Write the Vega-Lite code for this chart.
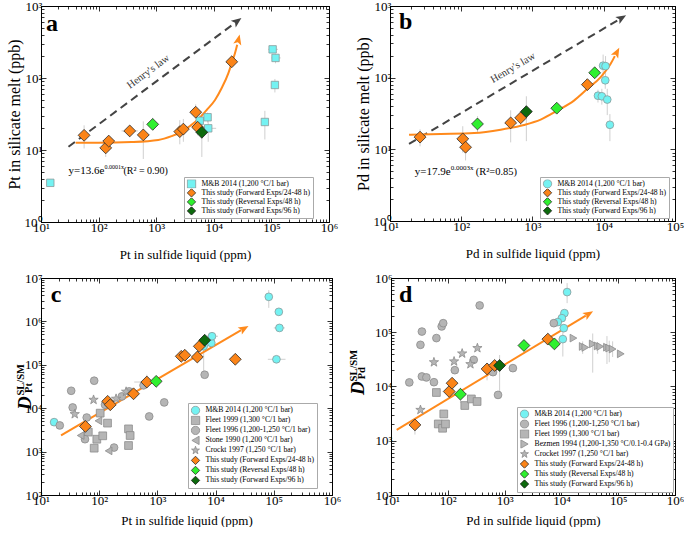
{
"$schema": "https://vega.github.io/schema/vega-lite/v6.json",
"background": "white",
"padding": {"left": 6, "top": 0, "right": 0, "bottom": 0},
"config": {
  "view": {"stroke": null},
  "font": "Liberation Serif",
  "axis": {"grid": false, "domainColor": "#000", "tickColor": "#000", "labelColor": "#000", "titleColor": "#000", "labelFont": "Liberation Serif", "titleFont": "Liberation Serif", "labelFontSize": 13, "titleFontSize": 13, "titleFontWeight": "normal", "labelFlush": false, "labelOverlap": false, "domainWidth": 1, "tickWidth": 0.8},
  "legend": {"labelFont": "Liberation Serif"},
  "text": {"font": "Liberation Serif", "color": "#000"}
},
"datasets": {
  "a_pts": [
    {"x":14.5,"y":3.5,"s":"M&B 2014 (1,200 °C/1 bar)"},
    {"x":5700,"y":25.5,"s":"M&B 2014 (1,200 °C/1 bar)"},
    {"x":7800,"y":28.5,"s":"M&B 2014 (1,200 °C/1 bar)"},
    {"x":8000,"y":20,"s":"M&B 2014 (1,200 °C/1 bar)"},
    {"x":77000,"y":24.5,"s":"M&B 2014 (1,200 °C/1 bar)"},
    {"x":105000,"y":250,"s":"M&B 2014 (1,200 °C/1 bar)"},
    {"x":118000,"y":190,"s":"M&B 2014 (1,200 °C/1 bar)"},
    {"x":115000,"y":80,"s":"M&B 2014 (1,200 °C/1 bar)"},
    {"x":56,"y":16,"s":"This study (Forward Exps/24-48 h)"},
    {"x":133,"y":10.7,"s":"This study (Forward Exps/24-48 h)"},
    {"x":150,"y":13.3,"s":"This study (Forward Exps/24-48 h)"},
    {"x":347,"y":18.4,"s":"This study (Forward Exps/24-48 h)"},
    {"x":597,"y":16.2,"s":"This study (Forward Exps/24-48 h)"},
    {"x":2570,"y":18,"s":"This study (Forward Exps/24-48 h)"},
    {"x":2960,"y":19.5,"s":"This study (Forward Exps/24-48 h)"},
    {"x":4850,"y":33.5,"s":"This study (Forward Exps/24-48 h)"},
    {"x":5250,"y":20.7,"s":"This study (Forward Exps/24-48 h)"},
    {"x":20500,"y":168,"s":"This study (Forward Exps/24-48 h)"},
    {"x":870,"y":22.7,"s":"This study (Reversal Exps/48 h)"},
    {"x":6200,"y":17.6,"s":"This study (Forward Exps/96 h)"}
  ],
  "a_ev": [
    {"x":56,"lo":10.5,"hi":22},{"x":133,"lo":8,"hi":14},{"x":150,"lo":11,"hi":16},{"x":347,"lo":15,"hi":22},
    {"x":597,"lo":7.5,"hi":25},{"x":870,"lo":19,"hi":28},{"x":2570,"lo":12,"hi":26},{"x":2960,"lo":13,"hi":27},
    {"x":4850,"lo":27,"hi":43},{"x":5250,"lo":16,"hi":27},{"x":6200,"lo":8,"hi":32},{"x":5700,"lo":21,"hi":31},
    {"x":7800,"lo":24,"hi":33},{"x":8000,"lo":13,"hi":28},{"x":77000,"lo":14,"hi":35},{"x":118000,"lo":160,"hi":215},
    {"x":115000,"lo":63,"hi":97},{"x":105000,"lo":230,"hi":270},{"x":20500,"lo":150,"hi":190}
  ],
  "a_eh": [
    {"y":18.4,"lo":250,"hi":480},{"y":16.2,"lo":480,"hi":760},{"y":250,"lo":88000,"hi":130000},
    {"y":190,"lo":100000,"hi":145000},{"y":20,"lo":6500,"hi":11000},{"y":28.5,"lo":7000,"hi":9000},{"y":33.5,"lo":4300,"hi":5400}
  ],
  "a_fit": [
    {"x":40,"y":12.6},{"x":99,"y":12.6},{"x":374,"y":12.9},{"x":1087,"y":13.8},{"x":1850,"y":15.6},{"x":2760,"y":17.9},
    {"x":3860,"y":21.5},{"x":5380,"y":26.7},{"x":7500,"y":35.9},{"x":10500,"y":49.5},{"x":13650,"y":72},{"x":17850,"y":116},
    {"x":20400,"y":160},{"x":23300,"y":220},{"x":25500,"y":290}
  ],
  "b_pts": [
    {"x":8300,"y":56,"s":"M&B 2014 (1,200 °C/1 bar)"},
    {"x":9800,"y":147,"s":"M&B 2014 (1,200 °C/1 bar)"},
    {"x":10600,"y":145,"s":"M&B 2014 (1,200 °C/1 bar)"},
    {"x":10500,"y":92,"s":"M&B 2014 (1,200 °C/1 bar)"},
    {"x":9400,"y":55,"s":"M&B 2014 (1,200 °C/1 bar)"},
    {"x":11200,"y":49.5,"s":"M&B 2014 (1,200 °C/1 bar)"},
    {"x":12200,"y":22,"s":"M&B 2014 (1,200 °C/1 bar)"},
    {"x":26.4,"y":14.8,"s":"This study (Forward Exps/24-48 h)"},
    {"x":105,"y":14,"s":"This study (Forward Exps/24-48 h)"},
    {"x":115,"y":10.7,"s":"This study (Forward Exps/24-48 h)"},
    {"x":494,"y":23.4,"s":"This study (Forward Exps/24-48 h)"},
    {"x":682,"y":27.5,"s":"This study (Forward Exps/24-48 h)"},
    {"x":5890,"y":80,"s":"This study (Forward Exps/24-48 h)"},
    {"x":169,"y":22.6,"s":"This study (Reversal Exps/48 h)"},
    {"x":2190,"y":37.5,"s":"This study (Reversal Exps/48 h)"},
    {"x":7460,"y":117,"s":"This study (Reversal Exps/48 h)"},
    {"x":820,"y":33.6,"s":"This study (Forward Exps/96 h)"}
  ],
  "b_ev": [
    {"x":26.4,"lo":11,"hi":19},{"x":105,"lo":9,"hi":21},{"x":115,"lo":7,"hi":13.5},{"x":494,"lo":12.5,"hi":35},
    {"x":682,"lo":21,"hi":33},{"x":820,"lo":13,"hi":55},{"x":169,"lo":17,"hi":29},{"x":2190,"lo":33,"hi":42},
    {"x":9800,"lo":100,"hi":210},{"x":10600,"lo":95,"hi":200},{"x":10500,"lo":70,"hi":105},{"x":11200,"lo":30,"hi":70},
    {"x":12200,"lo":13,"hi":31},{"x":8300,"lo":45,"hi":68},{"x":9400,"lo":42,"hi":70},{"x":5890,"lo":70,"hi":92}
  ],
  "b_eh": [
    {"y":56,"lo":7500,"hi":9300},{"y":145,"lo":9000,"hi":11500}
  ],
  "b_fit": [
    {"x":18.5,"y":16},{"x":51.5,"y":16.4},{"x":151,"y":16.9},{"x":358,"y":18.8},{"x":760,"y":21.9},{"x":1300,"y":26},
    {"x":2230,"y":34.7},{"x":3820,"y":47.9},{"x":5900,"y":69.8},{"x":9060,"y":102},{"x":12500,"y":156},{"x":14300,"y":200}
  ],
  "c_pts": [
    {"x":16.8,"y":4770,"s":"M&B 2014 (1,200 °C/1 bar)"},
    {"x":6240,"y":267000,"s":"M&B 2014 (1,200 °C/1 bar)"},
    {"x":8440,"y":319000,"s":"M&B 2014 (1,200 °C/1 bar)"},
    {"x":8670,"y":455000,"s":"M&B 2014 (1,200 °C/1 bar)"},
    {"x":82000,"y":3680000,"s":"M&B 2014 (1,200 °C/1 bar)"},
    {"x":111000,"y":134000,"s":"M&B 2014 (1,200 °C/1 bar)"},
    {"x":122000,"y":1660000,"s":"M&B 2014 (1,200 °C/1 bar)"},
    {"x":125000,"y":708000,"s":"M&B 2014 (1,200 °C/1 bar)"},
    {"x":65,"y":2810,"s":"Fleet 1999 (1,300 °C/1 bar)"},
    {"x":82,"y":1200,"s":"Fleet 1999 (1,300 °C/1 bar)"},
    {"x":91,"y":1930,"s":"Fleet 1999 (1,300 °C/1 bar)"},
    {"x":104,"y":7700,"s":"Fleet 1999 (1,300 °C/1 bar)"},
    {"x":115,"y":2310,"s":"Fleet 1999 (1,300 °C/1 bar)"},
    {"x":139,"y":4530,"s":"Fleet 1999 (1,300 °C/1 bar)"},
    {"x":319,"y":3340,"s":"Fleet 1999 (1,300 °C/1 bar)"},
    {"x":340,"y":2350,"s":"Fleet 1999 (1,300 °C/1 bar)"},
    {"x":319,"y":1380,"s":"Fleet 1999 (1,300 °C/1 bar)"},
    {"x":21,"y":4010,"s":"Fleet 1996 (1,200-1,250 °C/1 bar)"},
    {"x":33,"y":25200,"s":"Fleet 1996 (1,200-1,250 °C/1 bar)"},
    {"x":35,"y":10400,"s":"Fleet 1996 (1,200-1,250 °C/1 bar)"},
    {"x":61,"y":6100,"s":"Fleet 1996 (1,200-1,250 °C/1 bar)"},
    {"x":57,"y":1930,"s":"Fleet 1996 (1,200-1,250 °C/1 bar)"},
    {"x":82,"y":43000,"s":"Fleet 1996 (1,200-1,250 °C/1 bar)"},
    {"x":126,"y":12000,"s":"Fleet 1996 (1,200-1,250 °C/1 bar)"},
    {"x":180,"y":1240,"s":"Fleet 1996 (1,200-1,250 °C/1 bar)"},
    {"x":245,"y":18700,"s":"Fleet 1996 (1,200-1,250 °C/1 bar)"},
    {"x":327,"y":24400,"s":"Fleet 1996 (1,200-1,250 °C/1 bar)"},
    {"x":578,"y":33600,"s":"Fleet 1996 (1,200-1,250 °C/1 bar)"},
    {"x":723,"y":6460,"s":"Fleet 1996 (1,200-1,250 °C/1 bar)"},
    {"x":1310,"y":13600,"s":"Fleet 1996 (1,200-1,250 °C/1 bar)"},
    {"x":6490,"y":59000,"s":"Fleet 1996 (1,200-1,250 °C/1 bar)"},
    {"x":48,"y":2350,"s":"Stone 1990 (1,200 °C/1 bar)"},
    {"x":97,"y":5120,"s":"Stone 1990 (1,200 °C/1 bar)"},
    {"x":145,"y":1040,"s":"Stone 1990 (1,200 °C/1 bar)"},
    {"x":38,"y":7300,"s":"Crockt 1997 (1,250 °C/1 bar)"},
    {"x":80,"y":15600,"s":"Crockt 1997 (1,250 °C/1 bar)"},
    {"x":195,"y":16500,"s":"Crockt 1997 (1,250 °C/1 bar)"},
    {"x":290,"y":24000,"s":"Crockt 1997 (1,250 °C/1 bar)"},
    {"x":58,"y":3800,"s":"This study (Forward Exps/24-48 h)"},
    {"x":140,"y":14400,"s":"This study (Forward Exps/24-48 h)"},
    {"x":155,"y":12000,"s":"This study (Forward Exps/24-48 h)"},
    {"x":389,"y":21500,"s":"This study (Forward Exps/24-48 h)"},
    {"x":659,"y":40100,"s":"This study (Forward Exps/24-48 h)"},
    {"x":2570,"y":157000,"s":"This study (Forward Exps/24-48 h)"},
    {"x":2960,"y":166000,"s":"This study (Forward Exps/24-48 h)"},
    {"x":4850,"y":151000,"s":"This study (Forward Exps/24-48 h)"},
    {"x":5250,"y":267000,"s":"This study (Forward Exps/24-48 h)"},
    {"x":21800,"y":134000,"s":"This study (Forward Exps/24-48 h)"},
    {"x":953,"y":41600,"s":"This study (Reversal Exps/48 h)"},
    {"x":6490,"y":368000,"s":"This study (Forward Exps/96 h)"}
  ],
  "c_ev": [
    {"x":82000,"lo":2050000,"hi":5250000},{"x":6240,"lo":60000,"hi":320000},{"x":659,"lo":30000,"hi":59000},
    {"x":8670,"lo":350000,"hi":560000},{"x":122000,"lo":1400000,"hi":1950000},{"x":125000,"lo":600000,"hi":850000},
    {"x":111000,"lo":110000,"hi":160000},{"x":16.8,"lo":4000,"hi":5500},{"x":8440,"lo":250000,"hi":380000}
  ],
  "c_eh": [
    {"y":134000,"lo":79000,"hi":159000},{"y":708000,"lo":100000,"hi":155000},{"y":455000,"lo":7000,"hi":11000},
    {"y":40100,"lo":400,"hi":700},{"y":319000,"lo":7000,"hi":9800}
  ],
  "d_pts": [
    {"x":12600,"y":550000,"s":"M&B 2014 (1,200 °C/1 bar)"},
    {"x":11300,"y":225000,"s":"M&B 2014 (1,200 °C/1 bar)"},
    {"x":10200,"y":182000,"s":"M&B 2014 (1,200 °C/1 bar)"},
    {"x":8650,"y":154000,"s":"M&B 2014 (1,200 °C/1 bar)"},
    {"x":11000,"y":119000,"s":"M&B 2014 (1,200 °C/1 bar)"},
    {"x":10600,"y":74700,"s":"M&B 2014 (1,200 °C/1 bar)"},
    {"x":21,"y":11900,"s":"Fleet 1996 (1,200-1,250 °C/1 bar)"},
    {"x":33,"y":58600,"s":"Fleet 1996 (1,200-1,250 °C/1 bar)"},
    {"x":35,"y":103000,"s":"Fleet 1996 (1,200-1,250 °C/1 bar)"},
    {"x":35,"y":15300,"s":"Fleet 1996 (1,200-1,250 °C/1 bar)"},
    {"x":42,"y":14700,"s":"Fleet 1996 (1,200-1,250 °C/1 bar)"},
    {"x":57,"y":12000,"s":"Fleet 1996 (1,200-1,250 °C/1 bar)"},
    {"x":63,"y":78000,"s":"Fleet 1996 (1,200-1,250 °C/1 bar)"},
    {"x":78,"y":128000,"s":"Fleet 1996 (1,200-1,250 °C/1 bar)"},
    {"x":83,"y":147000,"s":"Fleet 1996 (1,200-1,250 °C/1 bar)"},
    {"x":133,"y":20000,"s":"Fleet 1996 (1,200-1,250 °C/1 bar)"},
    {"x":286,"y":31000,"s":"Fleet 1996 (1,200-1,250 °C/1 bar)"},
    {"x":364,"y":312000,"s":"Fleet 1996 (1,200-1,250 °C/1 bar)"},
    {"x":625,"y":18400,"s":"Fleet 1996 (1,200-1,250 °C/1 bar)"},
    {"x":766,"y":7000,"s":"Fleet 1996 (1,200-1,250 °C/1 bar)"},
    {"x":1400,"y":21800,"s":"Fleet 1996 (1,200-1,250 °C/1 bar)"},
    {"x":7350,"y":147000,"s":"Fleet 1996 (1,200-1,250 °C/1 bar)"},
    {"x":63,"y":7750,"s":"Fleet 1999 (1,300 °C/1 bar)"},
    {"x":68,"y":2040,"s":"Fleet 1999 (1,300 °C/1 bar)"},
    {"x":81,"y":1700,"s":"Fleet 1999 (1,300 °C/1 bar)"},
    {"x":85,"y":3120,"s":"Fleet 1999 (1,300 °C/1 bar)"},
    {"x":91,"y":2040,"s":"Fleet 1999 (1,300 °C/1 bar)"},
    {"x":199,"y":4460,"s":"Fleet 1999 (1,300 °C/1 bar)"},
    {"x":260,"y":5900,"s":"Fleet 1999 (1,300 °C/1 bar)"},
    {"x":328,"y":5290,"s":"Fleet 1999 (1,300 °C/1 bar)"},
    {"x":16300,"y":78000,"s":"Bezmen 1994 (1,200-1,350 °C/0.1-0.4 GPa)"},
    {"x":23700,"y":54700,"s":"Bezmen 1994 (1,200-1,350 °C/0.1-0.4 GPa)"},
    {"x":26400,"y":52500,"s":"Bezmen 1994 (1,200-1,350 °C/0.1-0.4 GPa)"},
    {"x":35600,"y":61000,"s":"Bezmen 1994 (1,200-1,350 °C/0.1-0.4 GPa)"},
    {"x":43500,"y":56000,"s":"Bezmen 1994 (1,200-1,350 °C/0.1-0.4 GPa)"},
    {"x":48300,"y":54700,"s":"Bezmen 1994 (1,200-1,350 °C/0.1-0.4 GPa)"},
    {"x":63400,"y":53000,"s":"Bezmen 1994 (1,200-1,350 °C/0.1-0.4 GPa)"},
    {"x":69500,"y":51000,"s":"Bezmen 1994 (1,200-1,350 °C/0.1-0.4 GPa)"},
    {"x":79800,"y":49000,"s":"Bezmen 1994 (1,200-1,350 °C/0.1-0.4 GPa)"},
    {"x":111000,"y":40000,"s":"Bezmen 1994 (1,200-1,350 °C/0.1-0.4 GPa)"},
    {"x":33,"y":3700,"s":"Crocket 1997 (1,250 °C/1 bar)"},
    {"x":57,"y":28000,"s":"Crocket 1997 (1,250 °C/1 bar)"},
    {"x":129,"y":29000,"s":"Crocket 1997 (1,250 °C/1 bar)"},
    {"x":179,"y":40600,"s":"Crocket 1997 (1,250 °C/1 bar)"},
    {"x":250,"y":25800,"s":"Crocket 1997 (1,250 °C/1 bar)"},
    {"x":332,"y":51000,"s":"Crocket 1997 (1,250 °C/1 bar)"},
    {"x":26.4,"y":1960,"s":"This study (Forward Exps/24-48 h)"},
    {"x":106,"y":8090,"s":"This study (Forward Exps/24-48 h)"},
    {"x":119,"y":11500,"s":"This study (Forward Exps/24-48 h)"},
    {"x":491,"y":21100,"s":"This study (Forward Exps/24-48 h)"},
    {"x":668,"y":24400,"s":"This study (Forward Exps/24-48 h)"},
    {"x":5770,"y":74700,"s":"This study (Forward Exps/24-48 h)"},
    {"x":167,"y":7210,"s":"This study (Reversal Exps/48 h)"},
    {"x":2190,"y":57000,"s":"This study (Reversal Exps/48 h)"},
    {"x":7530,"y":61000,"s":"This study (Reversal Exps/48 h)"},
    {"x":817,"y":24400,"s":"This study (Forward Exps/96 h)"}
  ],
  "d_ev": [
    {"x":26.4,"lo":1300,"hi":2400},{"x":167,"lo":5000,"hi":9500},{"x":491,"lo":13000,"hi":27000},{"x":668,"lo":19000,"hi":30000},
    {"x":817,"lo":7000,"hi":38000},{"x":2190,"lo":50000,"hi":62000},{"x":12600,"lo":344000,"hi":805000},{"x":10600,"lo":35700,"hi":119000},
    {"x":23700,"lo":40000,"hi":68000},{"x":35600,"lo":18000,"hi":95000},{"x":43500,"lo":40000,"hi":65000},{"x":63400,"lo":26000,"hi":85000},
    {"x":69500,"lo":28000,"hi":70000},{"x":79800,"lo":35000,"hi":68000},{"x":11000,"lo":100000,"hi":140000}
  ],
  "d_eh": [
    {"y":550000,"lo":11500,"hi":14000},{"y":74700,"lo":9000,"hi":12000}
  ]
},
"spacing": 11,
"resolve": {"scale": {"x": "independent", "y": "independent", "shape": "independent", "fill": "independent", "stroke": "independent"}, "legend": {"shape": "independent", "fill": "independent", "stroke": "independent"}},
"vconcat": [
 {"spacing": 17,
  "resolve": {"scale": {"x": "independent", "y": "independent", "shape": "independent", "fill": "independent", "stroke": "independent"}, "legend": {"shape": "independent", "fill": "independent", "stroke": "independent"}},
  "hconcat": [
   {"width": 288, "height": 216,
    "resolve": {"axis": {"x": "independent", "y": "independent"}},
    "layer": [
     {"data": {"name": "a_ev"}, "mark": {"type": "rule", "color": "#cfcfcf", "strokeWidth": 1},
      "encoding": {
       "x": {"field": "x", "type": "quantitative", "scale": {"type": "log", "domain": [10, 1000000]}, "axis": {"orient": "bottom", "values": [10,100,1000,10000,100000,1000000], "tickSize": -5, "labelExpr": "'10' + ['⁰','¹','²','³','⁴','⁵','⁶','⁷'][round(log(datum.value)/LN10)]", "labelPadding": 4, "title": "Pt in sulfide liquid (ppm)", "titlePadding": 14}},
       "y": {"field": "lo", "type": "quantitative", "scale": {"type": "log", "domain": [1, 1000]}, "axis": {"orient": "left", "values": [1,10,100,1000], "tickSize": -5, "labelExpr": "'10' + ['⁰','¹','²','³','⁴','⁵','⁶','⁷'][round(log(datum.value)/LN10)]", "labelPadding": 4, "title": "Pt in silicate melt (ppb)", "titleFontSize": 16, "titlePadding": 2}},
       "y2": {"field": "hi"}}},
     {"data": {"name": "a_eh"}, "mark": {"type": "rule", "color": "#cfcfcf", "strokeWidth": 1},
      "encoding": {
       "x": {"field": "lo", "type": "quantitative", "scale": {"type": "log", "domain": [10, 1000000]}, "axis": {"orient": "bottom", "values": [20,30,40,50,60,70,80,90,200,300,400,500,600,700,800,900,2000,3000,4000,5000,6000,7000,8000,9000,20000,30000,40000,50000,60000,70000,80000,90000,200000,300000,400000,500000,600000,700000,800000,900000], "tickSize": -3, "labels": false, "title": null}},
       "x2": {"field": "hi"},
       "y": {"field": "y", "type": "quantitative", "scale": {"type": "log", "domain": [1, 1000]}, "axis": {"orient": "left", "values": [2,3,4,5,6,7,8,9,20,30,40,50,60,70,80,90,200,300,400,500,600,700,800,900], "tickSize": -3, "labels": false, "title": null}}}},
     {"data": {"values": [{"x": 30, "y": 11.1}, {"x": 23000, "y": 578}]}, "mark": {"type": "line", "color": "#444", "strokeWidth": 2, "strokeDash": [8, 5]},
      "encoding": {
       "x": {"field": "x", "type": "quantitative", "scale": {"type": "log", "domain": [10, 1000000]}, "axis": {"orient": "top", "values": [10,100,1000,10000,100000,1000000], "tickSize": -5, "labels": false, "title": null}},
       "y": {"field": "y", "type": "quantitative", "scale": {"type": "log", "domain": [1, 1000]}, "axis": {"orient": "right", "values": [1,10,100,1000], "tickSize": -5, "labels": false, "title": null}}}},
     {"data": {"name": "a_fit"}, "mark": {"type": "line", "color": "#ff8a1c", "strokeWidth": 2, "interpolate": "monotone"},
      "encoding": {
       "x": {"field": "x", "type": "quantitative", "scale": {"type": "log", "domain": [10, 1000000]}, "axis": {"orient": "top", "values": [20,30,40,50,60,70,80,90,200,300,400,500,600,700,800,900,2000,3000,4000,5000,6000,7000,8000,9000,20000,30000,40000,50000,60000,70000,80000,90000,200000,300000,400000,500000,600000,700000,800000,900000], "tickSize": -3, "labels": false, "title": null}},
       "y": {"field": "y", "type": "quantitative", "scale": {"type": "log", "domain": [1, 1000]}, "axis": {"orient": "right", "values": [2,3,4,5,6,7,8,9,20,30,40,50,60,70,80,90,200,300,400,500,600,700,800,900], "tickSize": -3, "labels": false, "title": null}}}},
     {"data": {"values": [{}]}, "mark": {"type": "point", "shape": "M0,-1L0.75,0.85L0,0.45L-0.75,0.85Z", "filled": true, "color": "#444", "opacity": 1, "size": 120, "angle": 53.4},
      "encoding": {"x": {"datum": 25300, "type": "quantitative", "scale": {"type": "log", "domain": [10, 1000000]}, "axis": null}, "y": {"datum": 613, "type": "quantitative", "scale": {"type": "log", "domain": [1, 1000]}, "axis": null}}},
     {"data": {"values": [{}]}, "mark": {"type": "point", "shape": "M0,-1L0.75,0.85L0,0.45L-0.75,0.85Z", "filled": true, "color": "#ff8a1c", "opacity": 1, "size": 120, "angle": 13.5},
      "encoding": {"x": {"datum": 26700, "type": "quantitative", "scale": {"type": "log", "domain": [10, 1000000]}, "axis": null}, "y": {"datum": 338, "type": "quantitative", "scale": {"type": "log", "domain": [1, 1000]}, "axis": null}}},
     {"data": {"values": [{}]}, "mark": {"type": "text", "text": "Henry's law", "angle": -36.6, "fontSize": 10.5, "color": "#333"},
      "encoding": {"x": {"datum": 730, "type": "quantitative", "scale": {"type": "log", "domain": [10, 1000000]}, "axis": null}, "y": {"datum": 122, "type": "quantitative", "scale": {"type": "log", "domain": [1, 1000]}, "axis": null}}},
     {"data": {"values": [{}]}, "mark": {"type": "text", "text": "y=13.6e", "align": "right", "baseline": "middle", "fontSize": 11},
      "encoding": {"x": {"datum": 126, "type": "quantitative", "scale": {"type": "log", "domain": [10, 1000000]}, "axis": null}, "y": {"datum": 5.17, "type": "quantitative", "scale": {"type": "log", "domain": [1, 1000]}, "axis": null}}},
     {"data": {"values": [{}]}, "mark": {"type": "text", "text": "0.0001x", "align": "left", "baseline": "middle", "fontSize": 6, "dy": -4},
      "encoding": {"x": {"datum": 126, "type": "quantitative", "scale": {"type": "log", "domain": [10, 1000000]}, "axis": null}, "y": {"datum": 5.17, "type": "quantitative", "scale": {"type": "log", "domain": [1, 1000]}, "axis": null}}},
     {"data": {"values": [{}]}, "mark": {"type": "text", "text": "(R² = 0.90)", "align": "left", "baseline": "middle", "fontSize": 10, "dx": 19},
      "encoding": {"x": {"datum": 126, "type": "quantitative", "scale": {"type": "log", "domain": [10, 1000000]}, "axis": null}, "y": {"datum": 5.17, "type": "quantitative", "scale": {"type": "log", "domain": [1, 1000]}, "axis": null}}},
     {"data": {"values": [{}]}, "mark": {"type": "text", "text": "a", "align": "left", "baseline": "alphabetic", "fontSize": 24, "fontWeight": "bold"},
      "encoding": {"x": {"datum": 12.2, "type": "quantitative", "scale": {"type": "log", "domain": [10, 1000000]}, "axis": null}, "y": {"datum": 454, "type": "quantitative", "scale": {"type": "log", "domain": [1, 1000]}, "axis": null}}},
     {"data": {"name": "a_pts"}, "transform": [{"filter": "indexof(datum.s, 'This study') < 0"}], "mark": {"type": "point", "filled": true, "opacity": 1, "strokeWidth": 0.8, "size": 55},
      "encoding": {
       "x": {"field": "x", "type": "quantitative", "scale": {"type": "log", "domain": [10, 1000000]}, "axis": null},
       "y": {"field": "y", "type": "quantitative", "scale": {"type": "log", "domain": [1, 1000]}, "axis": null},
       "shape": {"field": "s", "type": "nominal", "scale": {"domain": ["M&B 2014 (1,200 °C/1 bar)", "This study (Forward Exps/24-48 h)", "This study (Reversal Exps/48 h)", "This study (Forward Exps/96 h)"], "range": ["square", "diamond", "diamond", "diamond"]},
        "legend": {"title": null, "orient": "none", "legendX": 143, "legendY": 171, "padding": 2.5, "rowPadding": 0, "clipHeight": 8.8, "symbolSize": 70, "labelFontSize": 7.7, "labelOffset": 5, "fillColor": "#fff", "strokeColor": "#aaa", "symbolStrokeWidth": 0.8, "labelLimit": 300}},
       "fill": {"field": "s", "type": "nominal", "scale": {"domain": ["M&B 2014 (1,200 °C/1 bar)", "This study (Forward Exps/24-48 h)", "This study (Reversal Exps/48 h)", "This study (Forward Exps/96 h)"], "range": ["#74f2f2", "#fb8418", "#2ff02f", "#0d6a0d"]},
        "legend": {"title": null, "orient": "none", "legendX": 143, "legendY": 171, "padding": 2.5, "rowPadding": 0, "clipHeight": 8.8, "symbolSize": 70, "labelFontSize": 7.7, "labelOffset": 5, "fillColor": "#fff", "strokeColor": "#aaa", "symbolStrokeWidth": 0.8, "labelLimit": 300}},
       "stroke": {"field": "s", "type": "nominal", "scale": {"domain": ["M&B 2014 (1,200 °C/1 bar)", "This study (Forward Exps/24-48 h)", "This study (Reversal Exps/48 h)", "This study (Forward Exps/96 h)"], "range": ["#8a9a9a", "#2b2b2b", "#2b2b2b", "#1b1b1b"]},
        "legend": {"title": null, "orient": "none", "legendX": 143, "legendY": 171, "padding": 2.5, "rowPadding": 0, "clipHeight": 8.8, "symbolSize": 70, "labelFontSize": 7.7, "labelOffset": 5, "fillColor": "#fff", "strokeColor": "#aaa", "symbolStrokeWidth": 0.8, "labelLimit": 300}}
      }},
     {"data": {"name": "a_pts"}, "transform": [{"filter": "indexof(datum.s, 'This study') >= 0"}], "mark": {"type": "point", "filled": true, "opacity": 1, "strokeWidth": 0.8, "size": 140},
      "encoding": {
       "x": {"field": "x", "type": "quantitative", "scale": {"type": "log", "domain": [10, 1000000]}, "axis": null},
       "y": {"field": "y", "type": "quantitative", "scale": {"type": "log", "domain": [1, 1000]}, "axis": null},
       "shape": {"field": "s", "type": "nominal", "scale": {"domain": ["M&B 2014 (1,200 °C/1 bar)", "This study (Forward Exps/24-48 h)", "This study (Reversal Exps/48 h)", "This study (Forward Exps/96 h)"], "range": ["square", "diamond", "diamond", "diamond"]},
        "legend": {"title": null, "orient": "none", "legendX": 143, "legendY": 171, "padding": 2.5, "rowPadding": 0, "clipHeight": 8.8, "symbolSize": 70, "labelFontSize": 7.7, "labelOffset": 5, "fillColor": "#fff", "strokeColor": "#aaa", "symbolStrokeWidth": 0.8, "labelLimit": 300}},
       "fill": {"field": "s", "type": "nominal", "scale": {"domain": ["M&B 2014 (1,200 °C/1 bar)", "This study (Forward Exps/24-48 h)", "This study (Reversal Exps/48 h)", "This study (Forward Exps/96 h)"], "range": ["#74f2f2", "#fb8418", "#2ff02f", "#0d6a0d"]},
        "legend": {"title": null, "orient": "none", "legendX": 143, "legendY": 171, "padding": 2.5, "rowPadding": 0, "clipHeight": 8.8, "symbolSize": 70, "labelFontSize": 7.7, "labelOffset": 5, "fillColor": "#fff", "strokeColor": "#aaa", "symbolStrokeWidth": 0.8, "labelLimit": 300}},
       "stroke": {"field": "s", "type": "nominal", "scale": {"domain": ["M&B 2014 (1,200 °C/1 bar)", "This study (Forward Exps/24-48 h)", "This study (Reversal Exps/48 h)", "This study (Forward Exps/96 h)"], "range": ["#8a9a9a", "#2b2b2b", "#2b2b2b", "#1b1b1b"]},
        "legend": {"title": null, "orient": "none", "legendX": 143, "legendY": 171, "padding": 2.5, "rowPadding": 0, "clipHeight": 8.8, "symbolSize": 70, "labelFontSize": 7.7, "labelOffset": 5, "fillColor": "#fff", "strokeColor": "#aaa", "symbolStrokeWidth": 0.8, "labelLimit": 300}}
      }}
    ]},
   {"width": 285, "height": 215,
    "resolve": {"axis": {"x": "independent", "y": "independent"}},
    "layer": [
     {"data": {"name": "b_ev"}, "mark": {"type": "rule", "color": "#cfcfcf", "strokeWidth": 1},
      "encoding": {
       "x": {"field": "x", "type": "quantitative", "scale": {"type": "log", "domain": [10, 100000]}, "axis": {"orient": "bottom", "values": [10,100,1000,10000,100000], "tickSize": -5, "labelExpr": "'10' + ['⁰','¹','²','³','⁴','⁵','⁶','⁷'][round(log(datum.value)/LN10)]", "labelPadding": 4, "title": "Pd in sulfide liquid (ppm)", "titlePadding": 14}},
       "y": {"field": "lo", "type": "quantitative", "scale": {"type": "log", "domain": [1, 1000]}, "axis": {"orient": "left", "values": [1,10,100,1000], "tickSize": -5, "labelExpr": "'10' + ['⁰','¹','²','³','⁴','⁵','⁶','⁷'][round(log(datum.value)/LN10)]", "labelPadding": 4, "title": "Pd in silicate melt (ppb)", "titleFontSize": 16, "titlePadding": 2}},
       "y2": {"field": "hi"}}},
     {"data": {"name": "b_eh"}, "mark": {"type": "rule", "color": "#cfcfcf", "strokeWidth": 1},
      "encoding": {
       "x": {"field": "lo", "type": "quantitative", "scale": {"type": "log", "domain": [10, 100000]}, "axis": {"orient": "bottom", "values": [20,30,40,50,60,70,80,90,200,300,400,500,600,700,800,900,2000,3000,4000,5000,6000,7000,8000,9000,20000,30000,40000,50000,60000,70000,80000,90000], "tickSize": -3, "labels": false, "title": null}},
       "x2": {"field": "hi"},
       "y": {"field": "y", "type": "quantitative", "scale": {"type": "log", "domain": [1, 1000]}, "axis": {"orient": "left", "values": [2,3,4,5,6,7,8,9,20,30,40,50,60,70,80,90,200,300,400,500,600,700,800,900], "tickSize": -3, "labels": false, "title": null}}}},
     {"data": {"values": [{"x": 18.5, "y": 11.9}, {"x": 16300, "y": 646}]}, "mark": {"type": "line", "color": "#444", "strokeWidth": 2, "strokeDash": [8, 5]},
      "encoding": {
       "x": {"field": "x", "type": "quantitative", "scale": {"type": "log", "domain": [10, 100000]}, "axis": {"orient": "top", "values": [10,100,1000,10000,100000], "tickSize": -5, "labels": false, "title": null}},
       "y": {"field": "y", "type": "quantitative", "scale": {"type": "log", "domain": [1, 1000]}, "axis": {"orient": "right", "values": [1,10,100,1000], "tickSize": -5, "labels": false, "title": null}}}},
     {"data": {"name": "b_fit"}, "mark": {"type": "line", "color": "#ff8a1c", "strokeWidth": 2, "interpolate": "monotone"},
      "encoding": {
       "x": {"field": "x", "type": "quantitative", "scale": {"type": "log", "domain": [10, 100000]}, "axis": {"orient": "top", "values": [20,30,40,50,60,70,80,90,200,300,400,500,600,700,800,900,2000,3000,4000,5000,6000,7000,8000,9000,20000,30000,40000,50000,60000,70000,80000,90000], "tickSize": -3, "labels": false, "title": null}},
       "y": {"field": "y", "type": "quantitative", "scale": {"type": "log", "domain": [1, 1000]}, "axis": {"orient": "right", "values": [2,3,4,5,6,7,8,9,20,30,40,50,60,70,80,90,200,300,400,500,600,700,800,900], "tickSize": -3, "labels": false, "title": null}}}},
     {"data": {"values": [{}]}, "mark": {"type": "point", "shape": "M0,-1L0.75,0.85L0,0.45L-0.75,0.85Z", "filled": true, "color": "#444", "opacity": 1, "size": 120, "angle": 59.4},
      "encoding": {"x": {"datum": 17700, "type": "quantitative", "scale": {"type": "log", "domain": [10, 100000]}, "axis": null}, "y": {"datum": 679, "type": "quantitative", "scale": {"type": "log", "domain": [1, 1000]}, "axis": null}}},
     {"data": {"values": [{}]}, "mark": {"type": "point", "shape": "M0,-1L0.75,0.85L0,0.45L-0.75,0.85Z", "filled": true, "color": "#ff8a1c", "opacity": 1, "size": 120, "angle": 27.9},
      "encoding": {"x": {"datum": 15200, "type": "quantitative", "scale": {"type": "log", "domain": [10, 100000]}, "axis": null}, "y": {"datum": 224, "type": "quantitative", "scale": {"type": "log", "domain": [1, 1000]}, "axis": null}}},
     {"data": {"values": [{}]}, "mark": {"type": "text", "text": "Henry's law", "angle": -30.6, "fontSize": 10.5, "color": "#333"},
      "encoding": {"x": {"datum": 532, "type": "quantitative", "scale": {"type": "log", "domain": [10, 100000]}, "axis": null}, "y": {"datum": 137, "type": "quantitative", "scale": {"type": "log", "domain": [1, 1000]}, "axis": null}}},
     {"data": {"values": [{}]}, "mark": {"type": "text", "text": "y=17.9e", "align": "right", "baseline": "middle", "fontSize": 11},
      "encoding": {"x": {"datum": 71, "type": "quantitative", "scale": {"type": "log", "domain": [10, 100000]}, "axis": null}, "y": {"datum": 4.88, "type": "quantitative", "scale": {"type": "log", "domain": [1, 1000]}, "axis": null}}},
     {"data": {"values": [{}]}, "mark": {"type": "text", "text": "0.0003x", "align": "left", "baseline": "middle", "fontSize": 7, "dy": -4},
      "encoding": {"x": {"datum": 71, "type": "quantitative", "scale": {"type": "log", "domain": [10, 100000]}, "axis": null}, "y": {"datum": 4.88, "type": "quantitative", "scale": {"type": "log", "domain": [1, 1000]}, "axis": null}}},
     {"data": {"values": [{}]}, "mark": {"type": "text", "text": "(R²=0.85)", "align": "left", "baseline": "middle", "fontSize": 10.5, "dx": 25},
      "encoding": {"x": {"datum": 71, "type": "quantitative", "scale": {"type": "log", "domain": [10, 100000]}, "axis": null}, "y": {"datum": 4.88, "type": "quantitative", "scale": {"type": "log", "domain": [1, 1000]}, "axis": null}}},
     {"data": {"values": [{}]}, "mark": {"type": "text", "text": "b", "align": "left", "baseline": "alphabetic", "fontSize": 24, "fontWeight": "bold"},
      "encoding": {"x": {"datum": 13.4, "type": "quantitative", "scale": {"type": "log", "domain": [10, 100000]}, "axis": null}, "y": {"datum": 470, "type": "quantitative", "scale": {"type": "log", "domain": [1, 1000]}, "axis": null}}},
     {"data": {"name": "b_pts"}, "transform": [{"filter": "indexof(datum.s, 'This study') < 0"}], "mark": {"type": "point", "filled": true, "opacity": 1, "strokeWidth": 0.8, "size": 60},
      "encoding": {
       "x": {"field": "x", "type": "quantitative", "scale": {"type": "log", "domain": [10, 100000]}, "axis": null},
       "y": {"field": "y", "type": "quantitative", "scale": {"type": "log", "domain": [1, 1000]}, "axis": null},
       "shape": {"field": "s", "type": "nominal", "scale": {"domain": ["M&B 2014 (1,200 °C/1 bar)", "This study (Forward Exps/24-48 h)", "This study (Reversal Exps/48 h)", "This study (Forward Exps/96 h)"], "range": ["circle", "diamond", "diamond", "diamond"]},
        "legend": {"title": null, "orient": "none", "legendX": 150, "legendY": 171, "padding": 2.5, "rowPadding": 0, "clipHeight": 8.6, "symbolSize": 70, "labelFontSize": 7.7, "labelOffset": 5, "fillColor": "#fff", "strokeColor": "#aaa", "symbolStrokeWidth": 0.8, "labelLimit": 300}},
       "fill": {"field": "s", "type": "nominal", "scale": {"domain": ["M&B 2014 (1,200 °C/1 bar)", "This study (Forward Exps/24-48 h)", "This study (Reversal Exps/48 h)", "This study (Forward Exps/96 h)"], "range": ["#74f2f2", "#fb8418", "#2ff02f", "#0d6a0d"]},
        "legend": {"title": null, "orient": "none", "legendX": 150, "legendY": 171, "padding": 2.5, "rowPadding": 0, "clipHeight": 8.6, "symbolSize": 70, "labelFontSize": 7.7, "labelOffset": 5, "fillColor": "#fff", "strokeColor": "#aaa", "symbolStrokeWidth": 0.8, "labelLimit": 300}},
       "stroke": {"field": "s", "type": "nominal", "scale": {"domain": ["M&B 2014 (1,200 °C/1 bar)", "This study (Forward Exps/24-48 h)", "This study (Reversal Exps/48 h)", "This study (Forward Exps/96 h)"], "range": ["#8a9a9a", "#2b2b2b", "#2b2b2b", "#1b1b1b"]},
        "legend": {"title": null, "orient": "none", "legendX": 150, "legendY": 171, "padding": 2.5, "rowPadding": 0, "clipHeight": 8.6, "symbolSize": 70, "labelFontSize": 7.7, "labelOffset": 5, "fillColor": "#fff", "strokeColor": "#aaa", "symbolStrokeWidth": 0.8, "labelLimit": 300}}
      }},
     {"data": {"name": "b_pts"}, "transform": [{"filter": "indexof(datum.s, 'This study') >= 0"}], "mark": {"type": "point", "filled": true, "opacity": 1, "strokeWidth": 0.8, "size": 140},
      "encoding": {
       "x": {"field": "x", "type": "quantitative", "scale": {"type": "log", "domain": [10, 100000]}, "axis": null},
       "y": {"field": "y", "type": "quantitative", "scale": {"type": "log", "domain": [1, 1000]}, "axis": null},
       "shape": {"field": "s", "type": "nominal", "scale": {"domain": ["M&B 2014 (1,200 °C/1 bar)", "This study (Forward Exps/24-48 h)", "This study (Reversal Exps/48 h)", "This study (Forward Exps/96 h)"], "range": ["circle", "diamond", "diamond", "diamond"]},
        "legend": {"title": null, "orient": "none", "legendX": 150, "legendY": 171, "padding": 2.5, "rowPadding": 0, "clipHeight": 8.6, "symbolSize": 70, "labelFontSize": 7.7, "labelOffset": 5, "fillColor": "#fff", "strokeColor": "#aaa", "symbolStrokeWidth": 0.8, "labelLimit": 300}},
       "fill": {"field": "s", "type": "nominal", "scale": {"domain": ["M&B 2014 (1,200 °C/1 bar)", "This study (Forward Exps/24-48 h)", "This study (Reversal Exps/48 h)", "This study (Forward Exps/96 h)"], "range": ["#74f2f2", "#fb8418", "#2ff02f", "#0d6a0d"]},
        "legend": {"title": null, "orient": "none", "legendX": 150, "legendY": 171, "padding": 2.5, "rowPadding": 0, "clipHeight": 8.6, "symbolSize": 70, "labelFontSize": 7.7, "labelOffset": 5, "fillColor": "#fff", "strokeColor": "#aaa", "symbolStrokeWidth": 0.8, "labelLimit": 300}},
       "stroke": {"field": "s", "type": "nominal", "scale": {"domain": ["M&B 2014 (1,200 °C/1 bar)", "This study (Forward Exps/24-48 h)", "This study (Reversal Exps/48 h)", "This study (Forward Exps/96 h)"], "range": ["#8a9a9a", "#2b2b2b", "#2b2b2b", "#1b1b1b"]},
        "legend": {"title": null, "orient": "none", "legendX": 150, "legendY": 171, "padding": 2.5, "rowPadding": 0, "clipHeight": 8.6, "symbolSize": 70, "labelFontSize": 7.7, "labelOffset": 5, "fillColor": "#fff", "strokeColor": "#aaa", "symbolStrokeWidth": 0.8, "labelLimit": 300}}
      }}
    ]}
  ]},
 {"spacing": 7,
  "resolve": {"scale": {"x": "independent", "y": "independent", "shape": "independent", "fill": "independent", "stroke": "independent"}, "legend": {"shape": "independent", "fill": "independent", "stroke": "independent"}},
  "hconcat": [
   {"width": 291, "height": 217,
    "resolve": {"axis": {"x": "independent", "y": "independent"}},
    "layer": [
     {"data": {"name": "c_ev"}, "mark": {"type": "rule", "color": "#cfcfcf", "strokeWidth": 1},
      "encoding": {
       "x": {"field": "x", "type": "quantitative", "scale": {"type": "log", "domain": [10, 1000000]}, "axis": {"orient": "bottom", "values": [10,100,1000,10000,100000,1000000], "tickSize": -5, "labelExpr": "'10' + ['⁰','¹','²','³','⁴','⁵','⁶','⁷'][round(log(datum.value)/LN10)]", "labelPadding": 4, "title": "Pt in sulfide liquid (ppm)", "titlePadding": 7}},
       "y": {"field": "lo", "type": "quantitative", "scale": {"type": "log", "domain": [100, 10000000]}, "axis": {"orient": "left", "values": [100,1000,10000,100000,1000000,10000000], "tickSize": -5, "labelExpr": "'10' + ['⁰','¹','²','³','⁴','⁵','⁶','⁷'][round(log(datum.value)/LN10)]", "labelPadding": 4, "title": null}},
       "y2": {"field": "hi"}}},
     {"data": {"name": "c_eh"}, "mark": {"type": "rule", "color": "#cfcfcf", "strokeWidth": 1},
      "encoding": {
       "x": {"field": "lo", "type": "quantitative", "scale": {"type": "log", "domain": [10, 1000000]}, "axis": {"orient": "bottom", "values": [20,30,40,50,60,70,80,90,200,300,400,500,600,700,800,900,2000,3000,4000,5000,6000,7000,8000,9000,20000,30000,40000,50000,60000,70000,80000,90000,200000,300000,400000,500000,600000,700000,800000,900000], "tickSize": -3, "labels": false, "title": null}},
       "x2": {"field": "hi"},
       "y": {"field": "y", "type": "quantitative", "scale": {"type": "log", "domain": [100, 10000000]}, "axis": {"orient": "left", "values": [200,300,400,500,600,700,800,900,2000,3000,4000,5000,6000,7000,8000,9000,20000,30000,40000,50000,60000,70000,80000,90000,200000,300000,400000,500000,600000,700000,800000,900000,2000000,3000000,4000000,5000000,6000000,7000000,8000000,9000000], "tickSize": -3, "labels": false, "title": null}}}},
     {"data": {"values": [{"x": 22.1, "y": 2360}, {"x": 27500, "y": 630000}]}, "mark": {"type": "line", "color": "#ff8a1c", "strokeWidth": 2},
      "encoding": {
       "x": {"field": "x", "type": "quantitative", "scale": {"type": "log", "domain": [10, 1000000]}, "axis": {"orient": "top", "values": [10,100,1000,10000,100000,1000000], "tickSize": -5, "labels": false, "title": null}},
       "y": {"field": "y", "type": "quantitative", "scale": {"type": "log", "domain": [100, 10000000]}, "axis": {"orient": "right", "values": [100,1000,10000,100000,1000000,10000000], "tickSize": -5, "labels": false, "title": null}}}},
     {"data": {"values": [{}]}, "mark": {"type": "point", "shape": "M0,-1L0.75,0.85L0,0.45L-0.75,0.85Z", "filled": true, "color": "#ff8a1c", "opacity": 1, "size": 120, "angle": 59.6},
      "encoding": {
       "x": {"datum": 30500, "type": "quantitative", "scale": {"type": "log", "domain": [10, 1000000]}, "axis": {"orient": "top", "values": [20,30,40,50,60,70,80,90,200,300,400,500,600,700,800,900,2000,3000,4000,5000,6000,7000,8000,9000,20000,30000,40000,50000,60000,70000,80000,90000,200000,300000,400000,500000,600000,700000,800000,900000], "tickSize": -3, "labels": false, "title": null}},
       "y": {"datum": 680000, "type": "quantitative", "scale": {"type": "log", "domain": [100, 10000000]}, "axis": {"orient": "right", "values": [200,300,400,500,600,700,800,900,2000,3000,4000,5000,6000,7000,8000,9000,20000,30000,40000,50000,60000,70000,80000,90000,200000,300000,400000,500000,600000,700000,800000,900000,2000000,3000000,4000000,5000000,6000000,7000000,8000000,9000000], "tickSize": -3, "labels": false, "title": null}}}},
     {"data": {"values": [{}]}, "mark": {"type": "text", "text": "D", "angle": -90, "align": "center", "baseline": "middle", "fontSize": 19, "fontWeight": "bold", "fontStyle": "italic"},
      "encoding": {"x": {"datum": 5.37, "type": "quantitative", "scale": {"type": "log", "domain": [10, 1000000]}, "axis": null}, "y": {"datum": 13100, "type": "quantitative", "scale": {"type": "log", "domain": [100, 10000000]}, "axis": null}}},
     {"data": {"values": [{}]}, "mark": {"type": "text", "text": "SL/SM", "angle": -90, "align": "center", "baseline": "middle", "fontSize": 10.5, "fontWeight": "bold"},
      "encoding": {"x": {"datum": 4.53, "type": "quantitative", "scale": {"type": "log", "domain": [10, 1000000]}, "axis": null}, "y": {"datum": 45300, "type": "quantitative", "scale": {"type": "log", "domain": [100, 10000000]}, "axis": null}}},
     {"data": {"values": [{}]}, "mark": {"type": "text", "text": "Pt", "angle": -90, "align": "center", "baseline": "middle", "fontSize": 10.5, "fontWeight": "bold"},
      "encoding": {"x": {"datum": 6.18, "type": "quantitative", "scale": {"type": "log", "domain": [10, 1000000]}, "axis": null}, "y": {"datum": 29100, "type": "quantitative", "scale": {"type": "log", "domain": [100, 10000000]}, "axis": null}}},
     {"data": {"values": [{}]}, "mark": {"type": "text", "text": "c", "align": "left", "baseline": "alphabetic", "fontSize": 24, "fontWeight": "bold"},
      "encoding": {"x": {"datum": 14.7, "type": "quantitative", "scale": {"type": "log", "domain": [10, 1000000]}, "axis": null}, "y": {"datum": 2770000, "type": "quantitative", "scale": {"type": "log", "domain": [100, 10000000]}, "axis": null}}},
     {"data": {"name": "c_pts"}, "transform": [{"filter": "indexof(datum.s, 'This study') < 0 && indexof(datum.s, 'Crockt') < 0"}], "mark": {"type": "point", "filled": true, "opacity": 1, "strokeWidth": 0.8, "size": 60},
      "encoding": {
       "x": {"field": "x", "type": "quantitative", "scale": {"type": "log", "domain": [10, 1000000]}, "axis": null},
       "y": {"field": "y", "type": "quantitative", "scale": {"type": "log", "domain": [100, 10000000]}, "axis": null},
       "shape": {"field": "s", "type": "nominal", "scale": {"domain": ["M&B 2014 (1,200 °C/1 bar)", "Fleet 1999 (1,300 °C/1 bar)", "Fleet 1996 (1,200-1,250 °C/1 bar)", "Stone 1990 (1,200 °C/1 bar)", "Crockt 1997 (1,250 °C/1 bar)", "This study (Forward Exps/24-48 h)", "This study (Reversal Exps/48 h)", "This study (Forward Exps/96 h)"], "range": ["circle", "square", "circle", "triangle-left", "M0,-1L0.235,-0.324L0.951,-0.309L0.38,0.124L0.588,0.809L0,0.4L-0.588,0.809L-0.38,0.124L-0.951,-0.309L-0.235,-0.324Z", "diamond", "diamond", "diamond"]},
        "legend": {"title": null, "orient": "none", "legendX": 147, "legendY": 125, "padding": 2.5, "rowPadding": 0, "clipHeight": 9.8, "symbolSize": 70, "labelFontSize": 7.7, "labelOffset": 5, "fillColor": "#fff", "strokeColor": "#aaa", "symbolStrokeWidth": 0.8, "labelLimit": 300}},
       "fill": {"field": "s", "type": "nominal", "scale": {"domain": ["M&B 2014 (1,200 °C/1 bar)", "Fleet 1999 (1,300 °C/1 bar)", "Fleet 1996 (1,200-1,250 °C/1 bar)", "Stone 1990 (1,200 °C/1 bar)", "Crockt 1997 (1,250 °C/1 bar)", "This study (Forward Exps/24-48 h)", "This study (Reversal Exps/48 h)", "This study (Forward Exps/96 h)"], "range": ["#74f2f2", "#b5b5b5", "#b5b5b5", "#b5b5b5", "#b5b5b5", "#fb8418", "#2ff02f", "#0d6a0d"]},
        "legend": {"title": null, "orient": "none", "legendX": 147, "legendY": 125, "padding": 2.5, "rowPadding": 0, "clipHeight": 9.8, "symbolSize": 70, "labelFontSize": 7.7, "labelOffset": 5, "fillColor": "#fff", "strokeColor": "#aaa", "symbolStrokeWidth": 0.8, "labelLimit": 300}},
       "stroke": {"field": "s", "type": "nominal", "scale": {"domain": ["M&B 2014 (1,200 °C/1 bar)", "Fleet 1999 (1,300 °C/1 bar)", "Fleet 1996 (1,200-1,250 °C/1 bar)", "Stone 1990 (1,200 °C/1 bar)", "Crockt 1997 (1,250 °C/1 bar)", "This study (Forward Exps/24-48 h)", "This study (Reversal Exps/48 h)", "This study (Forward Exps/96 h)"], "range": ["#8a9a9a", "#8c8c8c", "#8c8c8c", "#8c8c8c", "#8c8c8c", "#2b2b2b", "#2b2b2b", "#1b1b1b"]},
        "legend": {"title": null, "orient": "none", "legendX": 147, "legendY": 125, "padding": 2.5, "rowPadding": 0, "clipHeight": 9.8, "symbolSize": 70, "labelFontSize": 7.7, "labelOffset": 5, "fillColor": "#fff", "strokeColor": "#aaa", "symbolStrokeWidth": 0.8, "labelLimit": 300}}
      }},
     {"data": {"name": "c_pts"}, "transform": [{"filter": "indexof(datum.s, 'Crockt') >= 0"}], "mark": {"type": "point", "filled": true, "opacity": 1, "strokeWidth": 0.8, "size": 95},
      "encoding": {
       "x": {"field": "x", "type": "quantitative", "scale": {"type": "log", "domain": [10, 1000000]}, "axis": null},
       "y": {"field": "y", "type": "quantitative", "scale": {"type": "log", "domain": [100, 10000000]}, "axis": null},
       "shape": {"field": "s", "type": "nominal", "scale": {"domain": ["M&B 2014 (1,200 °C/1 bar)", "Fleet 1999 (1,300 °C/1 bar)", "Fleet 1996 (1,200-1,250 °C/1 bar)", "Stone 1990 (1,200 °C/1 bar)", "Crockt 1997 (1,250 °C/1 bar)", "This study (Forward Exps/24-48 h)", "This study (Reversal Exps/48 h)", "This study (Forward Exps/96 h)"], "range": ["circle", "square", "circle", "triangle-left", "M0,-1L0.235,-0.324L0.951,-0.309L0.38,0.124L0.588,0.809L0,0.4L-0.588,0.809L-0.38,0.124L-0.951,-0.309L-0.235,-0.324Z", "diamond", "diamond", "diamond"]},
        "legend": {"title": null, "orient": "none", "legendX": 147, "legendY": 125, "padding": 2.5, "rowPadding": 0, "clipHeight": 9.8, "symbolSize": 70, "labelFontSize": 7.7, "labelOffset": 5, "fillColor": "#fff", "strokeColor": "#aaa", "symbolStrokeWidth": 0.8, "labelLimit": 300}},
       "fill": {"field": "s", "type": "nominal", "scale": {"domain": ["M&B 2014 (1,200 °C/1 bar)", "Fleet 1999 (1,300 °C/1 bar)", "Fleet 1996 (1,200-1,250 °C/1 bar)", "Stone 1990 (1,200 °C/1 bar)", "Crockt 1997 (1,250 °C/1 bar)", "This study (Forward Exps/24-48 h)", "This study (Reversal Exps/48 h)", "This study (Forward Exps/96 h)"], "range": ["#74f2f2", "#b5b5b5", "#b5b5b5", "#b5b5b5", "#b5b5b5", "#fb8418", "#2ff02f", "#0d6a0d"]},
        "legend": {"title": null, "orient": "none", "legendX": 147, "legendY": 125, "padding": 2.5, "rowPadding": 0, "clipHeight": 9.8, "symbolSize": 70, "labelFontSize": 7.7, "labelOffset": 5, "fillColor": "#fff", "strokeColor": "#aaa", "symbolStrokeWidth": 0.8, "labelLimit": 300}},
       "stroke": {"field": "s", "type": "nominal", "scale": {"domain": ["M&B 2014 (1,200 °C/1 bar)", "Fleet 1999 (1,300 °C/1 bar)", "Fleet 1996 (1,200-1,250 °C/1 bar)", "Stone 1990 (1,200 °C/1 bar)", "Crockt 1997 (1,250 °C/1 bar)", "This study (Forward Exps/24-48 h)", "This study (Reversal Exps/48 h)", "This study (Forward Exps/96 h)"], "range": ["#8a9a9a", "#8c8c8c", "#8c8c8c", "#8c8c8c", "#8c8c8c", "#2b2b2b", "#2b2b2b", "#1b1b1b"]},
        "legend": {"title": null, "orient": "none", "legendX": 147, "legendY": 125, "padding": 2.5, "rowPadding": 0, "clipHeight": 9.8, "symbolSize": 70, "labelFontSize": 7.7, "labelOffset": 5, "fillColor": "#fff", "strokeColor": "#aaa", "symbolStrokeWidth": 0.8, "labelLimit": 300}}
      }},
     {"data": {"name": "c_pts"}, "transform": [{"filter": "indexof(datum.s, 'This study') >= 0"}], "mark": {"type": "point", "filled": true, "opacity": 1, "strokeWidth": 0.8, "size": 140},
      "encoding": {
       "x": {"field": "x", "type": "quantitative", "scale": {"type": "log", "domain": [10, 1000000]}, "axis": null},
       "y": {"field": "y", "type": "quantitative", "scale": {"type": "log", "domain": [100, 10000000]}, "axis": null},
       "shape": {"field": "s", "type": "nominal", "scale": {"domain": ["M&B 2014 (1,200 °C/1 bar)", "Fleet 1999 (1,300 °C/1 bar)", "Fleet 1996 (1,200-1,250 °C/1 bar)", "Stone 1990 (1,200 °C/1 bar)", "Crockt 1997 (1,250 °C/1 bar)", "This study (Forward Exps/24-48 h)", "This study (Reversal Exps/48 h)", "This study (Forward Exps/96 h)"], "range": ["circle", "square", "circle", "triangle-left", "M0,-1L0.235,-0.324L0.951,-0.309L0.38,0.124L0.588,0.809L0,0.4L-0.588,0.809L-0.38,0.124L-0.951,-0.309L-0.235,-0.324Z", "diamond", "diamond", "diamond"]},
        "legend": {"title": null, "orient": "none", "legendX": 147, "legendY": 125, "padding": 2.5, "rowPadding": 0, "clipHeight": 9.8, "symbolSize": 70, "labelFontSize": 7.7, "labelOffset": 5, "fillColor": "#fff", "strokeColor": "#aaa", "symbolStrokeWidth": 0.8, "labelLimit": 300}},
       "fill": {"field": "s", "type": "nominal", "scale": {"domain": ["M&B 2014 (1,200 °C/1 bar)", "Fleet 1999 (1,300 °C/1 bar)", "Fleet 1996 (1,200-1,250 °C/1 bar)", "Stone 1990 (1,200 °C/1 bar)", "Crockt 1997 (1,250 °C/1 bar)", "This study (Forward Exps/24-48 h)", "This study (Reversal Exps/48 h)", "This study (Forward Exps/96 h)"], "range": ["#74f2f2", "#b5b5b5", "#b5b5b5", "#b5b5b5", "#b5b5b5", "#fb8418", "#2ff02f", "#0d6a0d"]},
        "legend": {"title": null, "orient": "none", "legendX": 147, "legendY": 125, "padding": 2.5, "rowPadding": 0, "clipHeight": 9.8, "symbolSize": 70, "labelFontSize": 7.7, "labelOffset": 5, "fillColor": "#fff", "strokeColor": "#aaa", "symbolStrokeWidth": 0.8, "labelLimit": 300}},
       "stroke": {"field": "s", "type": "nominal", "scale": {"domain": ["M&B 2014 (1,200 °C/1 bar)", "Fleet 1999 (1,300 °C/1 bar)", "Fleet 1996 (1,200-1,250 °C/1 bar)", "Stone 1990 (1,200 °C/1 bar)", "Crockt 1997 (1,250 °C/1 bar)", "This study (Forward Exps/24-48 h)", "This study (Reversal Exps/48 h)", "This study (Forward Exps/96 h)"], "range": ["#8a9a9a", "#8c8c8c", "#8c8c8c", "#8c8c8c", "#8c8c8c", "#2b2b2b", "#2b2b2b", "#1b1b1b"]},
        "legend": {"title": null, "orient": "none", "legendX": 147, "legendY": 125, "padding": 2.5, "rowPadding": 0, "clipHeight": 9.8, "symbolSize": 70, "labelFontSize": 7.7, "labelOffset": 5, "fillColor": "#fff", "strokeColor": "#aaa", "symbolStrokeWidth": 0.8, "labelLimit": 300}}
      }}
    ]},
   {"width": 284, "height": 217,
    "resolve": {"axis": {"x": "independent", "y": "independent"}},
    "layer": [
     {"data": {"name": "d_ev"}, "mark": {"type": "rule", "color": "#cfcfcf", "strokeWidth": 1},
      "encoding": {
       "x": {"field": "x", "type": "quantitative", "scale": {"type": "log", "domain": [10, 1000000]}, "axis": {"orient": "bottom", "values": [10,100,1000,10000,100000,1000000], "tickSize": -5, "labelExpr": "'10' + ['⁰','¹','²','³','⁴','⁵','⁶','⁷'][round(log(datum.value)/LN10)]", "labelPadding": 4, "title": "Pd in sulfide liquid (ppm)", "titlePadding": 7}},
       "y": {"field": "lo", "type": "quantitative", "scale": {"type": "log", "domain": [100, 1000000]}, "axis": {"orient": "left", "values": [100,1000,10000,100000,1000000], "tickSize": -5, "labelExpr": "'10' + ['⁰','¹','²','³','⁴','⁵','⁶','⁷'][round(log(datum.value)/LN10)]", "labelPadding": 4, "title": null}},
       "y2": {"field": "hi"}}},
     {"data": {"name": "d_eh"}, "mark": {"type": "rule", "color": "#cfcfcf", "strokeWidth": 1},
      "encoding": {
       "x": {"field": "lo", "type": "quantitative", "scale": {"type": "log", "domain": [10, 1000000]}, "axis": {"orient": "bottom", "values": [20,30,40,50,60,70,80,90,200,300,400,500,600,700,800,900,2000,3000,4000,5000,6000,7000,8000,9000,20000,30000,40000,50000,60000,70000,80000,90000,200000,300000,400000,500000,600000,700000,800000,900000], "tickSize": -3, "labels": false, "title": null}},
       "x2": {"field": "hi"},
       "y": {"field": "y", "type": "quantitative", "scale": {"type": "log", "domain": [100, 1000000]}, "axis": {"orient": "left", "values": [200,300,400,500,600,700,800,900,2000,3000,4000,5000,6000,7000,8000,9000,20000,30000,40000,50000,60000,70000,80000,90000,200000,300000,400000,500000,600000,700000,800000,900000], "tickSize": -3, "labels": false, "title": null}}}},
     {"data": {"values": [{"x": 12.6, "y": 1580}, {"x": 26900, "y": 203000}]}, "mark": {"type": "line", "color": "#ff8a1c", "strokeWidth": 2},
      "encoding": {
       "x": {"field": "x", "type": "quantitative", "scale": {"type": "log", "domain": [10, 1000000]}, "axis": {"orient": "top", "values": [10,100,1000,10000,100000,1000000], "tickSize": -5, "labels": false, "title": null}},
       "y": {"field": "y", "type": "quantitative", "scale": {"type": "log", "domain": [100, 1000000]}, "axis": {"orient": "right", "values": [100,1000,10000,100000,1000000], "tickSize": -5, "labels": false, "title": null}}}},
     {"data": {"values": [{}]}, "mark": {"type": "point", "shape": "M0,-1L0.75,0.85L0,0.45L-0.75,0.85Z", "filled": true, "color": "#ff8a1c", "opacity": 1, "size": 120, "angle": 58.9},
      "encoding": {
       "x": {"datum": 29900, "type": "quantitative", "scale": {"type": "log", "domain": [10, 1000000]}, "axis": {"orient": "top", "values": [20,30,40,50,60,70,80,90,200,300,400,500,600,700,800,900,2000,3000,4000,5000,6000,7000,8000,9000,20000,30000,40000,50000,60000,70000,80000,90000,200000,300000,400000,500000,600000,700000,800000,900000], "tickSize": -3, "labels": false, "title": null}},
       "y": {"datum": 217000, "type": "quantitative", "scale": {"type": "log", "domain": [100, 1000000]}, "axis": {"orient": "right", "values": [200,300,400,500,600,700,800,900,2000,3000,4000,5000,6000,7000,8000,9000,20000,30000,40000,50000,60000,70000,80000,90000,200000,300000,400000,500000,600000,700000,800000,900000], "tickSize": -3, "labels": false, "title": null}}}},
     {"data": {"values": [{}]}, "mark": {"type": "text", "text": "D", "angle": -90, "align": "center", "baseline": "middle", "fontSize": 19, "fontWeight": "bold", "fontStyle": "italic"},
      "encoding": {"x": {"datum": 2.66, "type": "quantitative", "scale": {"type": "log", "domain": [10, 1000000]}, "axis": null}, "y": {"datum": 9300, "type": "quantitative", "scale": {"type": "log", "domain": [100, 1000000]}, "axis": null}}},
     {"data": {"values": [{}]}, "mark": {"type": "text", "text": "SL/SM", "angle": -90, "align": "center", "baseline": "middle", "fontSize": 10.5, "fontWeight": "bold"},
      "encoding": {"x": {"datum": 2.22, "type": "quantitative", "scale": {"type": "log", "domain": [10, 1000000]}, "axis": null}, "y": {"datum": 24200, "type": "quantitative", "scale": {"type": "log", "domain": [100, 1000000]}, "axis": null}}},
     {"data": {"values": [{}]}, "mark": {"type": "text", "text": "Pd", "angle": -90, "align": "center", "baseline": "middle", "fontSize": 10.5, "fontWeight": "bold"},
      "encoding": {"x": {"datum": 3.13, "type": "quantitative", "scale": {"type": "log", "domain": [10, 1000000]}, "axis": null}, "y": {"datum": 17600, "type": "quantitative", "scale": {"type": "log", "domain": [100, 1000000]}, "axis": null}}},
     {"data": {"values": [{}]}, "mark": {"type": "text", "text": "d", "align": "left", "baseline": "alphabetic", "fontSize": 24, "fontWeight": "bold"},
      "encoding": {"x": {"datum": 13.8, "type": "quantitative", "scale": {"type": "log", "domain": [10, 1000000]}, "axis": null}, "y": {"datum": 355000, "type": "quantitative", "scale": {"type": "log", "domain": [100, 1000000]}, "axis": null}}},
     {"data": {"name": "d_pts"}, "transform": [{"filter": "indexof(datum.s, 'This study') < 0 && indexof(datum.s, 'Crocket') < 0"}], "mark": {"type": "point", "filled": true, "opacity": 1, "strokeWidth": 0.8, "size": 60},
      "encoding": {
       "x": {"field": "x", "type": "quantitative", "scale": {"type": "log", "domain": [10, 1000000]}, "axis": null},
       "y": {"field": "y", "type": "quantitative", "scale": {"type": "log", "domain": [100, 1000000]}, "axis": null},
       "shape": {"field": "s", "type": "nominal", "scale": {"domain": ["M&B 2014 (1,200 °C/1 bar)", "Fleet 1996 (1,200-1,250 °C/1 bar)", "Fleet 1999 (1,300 °C/1 bar)", "Bezmen 1994 (1,200-1,350 °C/0.1-0.4 GPa)", "Crocket 1997 (1,250 °C/1 bar)", "This study (Forward Exps/24-48 h)", "This study (Reversal Exps/48 h)", "This study (Forward Exps/96 h)"], "range": ["circle", "circle", "square", "triangle-right", "M0,-1L0.235,-0.324L0.951,-0.309L0.38,0.124L0.588,0.809L0,0.4L-0.588,0.809L-0.38,0.124L-0.951,-0.309L-0.235,-0.324Z", "diamond", "diamond", "diamond"]},
        "legend": {"title": null, "orient": "none", "legendX": 126, "legendY": 129, "padding": 2.5, "rowPadding": 0, "clipHeight": 9.1, "symbolSize": 70, "labelFontSize": 7.7, "labelOffset": 5, "fillColor": "#fff", "strokeColor": "#aaa", "symbolStrokeWidth": 0.8, "labelLimit": 300}},
       "fill": {"field": "s", "type": "nominal", "scale": {"domain": ["M&B 2014 (1,200 °C/1 bar)", "Fleet 1996 (1,200-1,250 °C/1 bar)", "Fleet 1999 (1,300 °C/1 bar)", "Bezmen 1994 (1,200-1,350 °C/0.1-0.4 GPa)", "Crocket 1997 (1,250 °C/1 bar)", "This study (Forward Exps/24-48 h)", "This study (Reversal Exps/48 h)", "This study (Forward Exps/96 h)"], "range": ["#74f2f2", "#b5b5b5", "#b5b5b5", "#b5b5b5", "#b5b5b5", "#fb8418", "#2ff02f", "#0d6a0d"]},
        "legend": {"title": null, "orient": "none", "legendX": 126, "legendY": 129, "padding": 2.5, "rowPadding": 0, "clipHeight": 9.1, "symbolSize": 70, "labelFontSize": 7.7, "labelOffset": 5, "fillColor": "#fff", "strokeColor": "#aaa", "symbolStrokeWidth": 0.8, "labelLimit": 300}},
       "stroke": {"field": "s", "type": "nominal", "scale": {"domain": ["M&B 2014 (1,200 °C/1 bar)", "Fleet 1996 (1,200-1,250 °C/1 bar)", "Fleet 1999 (1,300 °C/1 bar)", "Bezmen 1994 (1,200-1,350 °C/0.1-0.4 GPa)", "Crocket 1997 (1,250 °C/1 bar)", "This study (Forward Exps/24-48 h)", "This study (Reversal Exps/48 h)", "This study (Forward Exps/96 h)"], "range": ["#8a9a9a", "#8c8c8c", "#8c8c8c", "#8c8c8c", "#8c8c8c", "#2b2b2b", "#2b2b2b", "#1b1b1b"]},
        "legend": {"title": null, "orient": "none", "legendX": 126, "legendY": 129, "padding": 2.5, "rowPadding": 0, "clipHeight": 9.1, "symbolSize": 70, "labelFontSize": 7.7, "labelOffset": 5, "fillColor": "#fff", "strokeColor": "#aaa", "symbolStrokeWidth": 0.8, "labelLimit": 300}}
      }},
     {"data": {"name": "d_pts"}, "transform": [{"filter": "indexof(datum.s, 'Crocket') >= 0"}], "mark": {"type": "point", "filled": true, "opacity": 1, "strokeWidth": 0.8, "size": 95},
      "encoding": {
       "x": {"field": "x", "type": "quantitative", "scale": {"type": "log", "domain": [10, 1000000]}, "axis": null},
       "y": {"field": "y", "type": "quantitative", "scale": {"type": "log", "domain": [100, 1000000]}, "axis": null},
       "shape": {"field": "s", "type": "nominal", "scale": {"domain": ["M&B 2014 (1,200 °C/1 bar)", "Fleet 1996 (1,200-1,250 °C/1 bar)", "Fleet 1999 (1,300 °C/1 bar)", "Bezmen 1994 (1,200-1,350 °C/0.1-0.4 GPa)", "Crocket 1997 (1,250 °C/1 bar)", "This study (Forward Exps/24-48 h)", "This study (Reversal Exps/48 h)", "This study (Forward Exps/96 h)"], "range": ["circle", "circle", "square", "triangle-right", "M0,-1L0.235,-0.324L0.951,-0.309L0.38,0.124L0.588,0.809L0,0.4L-0.588,0.809L-0.38,0.124L-0.951,-0.309L-0.235,-0.324Z", "diamond", "diamond", "diamond"]},
        "legend": {"title": null, "orient": "none", "legendX": 126, "legendY": 129, "padding": 2.5, "rowPadding": 0, "clipHeight": 9.1, "symbolSize": 70, "labelFontSize": 7.7, "labelOffset": 5, "fillColor": "#fff", "strokeColor": "#aaa", "symbolStrokeWidth": 0.8, "labelLimit": 300}},
       "fill": {"field": "s", "type": "nominal", "scale": {"domain": ["M&B 2014 (1,200 °C/1 bar)", "Fleet 1996 (1,200-1,250 °C/1 bar)", "Fleet 1999 (1,300 °C/1 bar)", "Bezmen 1994 (1,200-1,350 °C/0.1-0.4 GPa)", "Crocket 1997 (1,250 °C/1 bar)", "This study (Forward Exps/24-48 h)", "This study (Reversal Exps/48 h)", "This study (Forward Exps/96 h)"], "range": ["#74f2f2", "#b5b5b5", "#b5b5b5", "#b5b5b5", "#b5b5b5", "#fb8418", "#2ff02f", "#0d6a0d"]},
        "legend": {"title": null, "orient": "none", "legendX": 126, "legendY": 129, "padding": 2.5, "rowPadding": 0, "clipHeight": 9.1, "symbolSize": 70, "labelFontSize": 7.7, "labelOffset": 5, "fillColor": "#fff", "strokeColor": "#aaa", "symbolStrokeWidth": 0.8, "labelLimit": 300}},
       "stroke": {"field": "s", "type": "nominal", "scale": {"domain": ["M&B 2014 (1,200 °C/1 bar)", "Fleet 1996 (1,200-1,250 °C/1 bar)", "Fleet 1999 (1,300 °C/1 bar)", "Bezmen 1994 (1,200-1,350 °C/0.1-0.4 GPa)", "Crocket 1997 (1,250 °C/1 bar)", "This study (Forward Exps/24-48 h)", "This study (Reversal Exps/48 h)", "This study (Forward Exps/96 h)"], "range": ["#8a9a9a", "#8c8c8c", "#8c8c8c", "#8c8c8c", "#8c8c8c", "#2b2b2b", "#2b2b2b", "#1b1b1b"]},
        "legend": {"title": null, "orient": "none", "legendX": 126, "legendY": 129, "padding": 2.5, "rowPadding": 0, "clipHeight": 9.1, "symbolSize": 70, "labelFontSize": 7.7, "labelOffset": 5, "fillColor": "#fff", "strokeColor": "#aaa", "symbolStrokeWidth": 0.8, "labelLimit": 300}}
      }},
     {"data": {"name": "d_pts"}, "transform": [{"filter": "indexof(datum.s, 'This study') >= 0"}], "mark": {"type": "point", "filled": true, "opacity": 1, "strokeWidth": 0.8, "size": 140},
      "encoding": {
       "x": {"field": "x", "type": "quantitative", "scale": {"type": "log", "domain": [10, 1000000]}, "axis": null},
       "y": {"field": "y", "type": "quantitative", "scale": {"type": "log", "domain": [100, 1000000]}, "axis": null},
       "shape": {"field": "s", "type": "nominal", "scale": {"domain": ["M&B 2014 (1,200 °C/1 bar)", "Fleet 1996 (1,200-1,250 °C/1 bar)", "Fleet 1999 (1,300 °C/1 bar)", "Bezmen 1994 (1,200-1,350 °C/0.1-0.4 GPa)", "Crocket 1997 (1,250 °C/1 bar)", "This study (Forward Exps/24-48 h)", "This study (Reversal Exps/48 h)", "This study (Forward Exps/96 h)"], "range": ["circle", "circle", "square", "triangle-right", "M0,-1L0.235,-0.324L0.951,-0.309L0.38,0.124L0.588,0.809L0,0.4L-0.588,0.809L-0.38,0.124L-0.951,-0.309L-0.235,-0.324Z", "diamond", "diamond", "diamond"]},
        "legend": {"title": null, "orient": "none", "legendX": 126, "legendY": 129, "padding": 2.5, "rowPadding": 0, "clipHeight": 9.1, "symbolSize": 70, "labelFontSize": 7.7, "labelOffset": 5, "fillColor": "#fff", "strokeColor": "#aaa", "symbolStrokeWidth": 0.8, "labelLimit": 300}},
       "fill": {"field": "s", "type": "nominal", "scale": {"domain": ["M&B 2014 (1,200 °C/1 bar)", "Fleet 1996 (1,200-1,250 °C/1 bar)", "Fleet 1999 (1,300 °C/1 bar)", "Bezmen 1994 (1,200-1,350 °C/0.1-0.4 GPa)", "Crocket 1997 (1,250 °C/1 bar)", "This study (Forward Exps/24-48 h)", "This study (Reversal Exps/48 h)", "This study (Forward Exps/96 h)"], "range": ["#74f2f2", "#b5b5b5", "#b5b5b5", "#b5b5b5", "#b5b5b5", "#fb8418", "#2ff02f", "#0d6a0d"]},
        "legend": {"title": null, "orient": "none", "legendX": 126, "legendY": 129, "padding": 2.5, "rowPadding": 0, "clipHeight": 9.1, "symbolSize": 70, "labelFontSize": 7.7, "labelOffset": 5, "fillColor": "#fff", "strokeColor": "#aaa", "symbolStrokeWidth": 0.8, "labelLimit": 300}},
       "stroke": {"field": "s", "type": "nominal", "scale": {"domain": ["M&B 2014 (1,200 °C/1 bar)", "Fleet 1996 (1,200-1,250 °C/1 bar)", "Fleet 1999 (1,300 °C/1 bar)", "Bezmen 1994 (1,200-1,350 °C/0.1-0.4 GPa)", "Crocket 1997 (1,250 °C/1 bar)", "This study (Forward Exps/24-48 h)", "This study (Reversal Exps/48 h)", "This study (Forward Exps/96 h)"], "range": ["#8a9a9a", "#8c8c8c", "#8c8c8c", "#8c8c8c", "#8c8c8c", "#2b2b2b", "#2b2b2b", "#1b1b1b"]},
        "legend": {"title": null, "orient": "none", "legendX": 126, "legendY": 129, "padding": 2.5, "rowPadding": 0, "clipHeight": 9.1, "symbolSize": 70, "labelFontSize": 7.7, "labelOffset": 5, "fillColor": "#fff", "strokeColor": "#aaa", "symbolStrokeWidth": 0.8, "labelLimit": 300}}
      }}
    ]}
  ]}
]
}
